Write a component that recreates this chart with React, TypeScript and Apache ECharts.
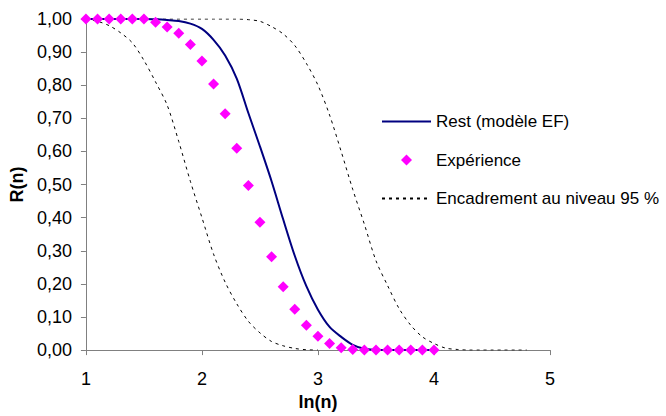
import React, { useEffect, useRef } from "react";
import * as echarts from "echarts";

const lnN = [1.0, 1.1, 1.2, 1.3, 1.4, 1.5, 1.6, 1.7, 1.8, 1.9, 2.0, 2.1, 2.2, 2.3, 2.4, 2.5, 2.6, 2.7, 2.8, 2.9, 3.0, 3.1, 3.2, 3.3, 3.4, 3.5, 3.6, 3.7, 3.8, 3.9, 4.0, 4.1, 4.2, 4.3, 4.4, 4.5, 4.6, 4.7, 4.8];

const experience = [1.0, 1.0, 1.0, 1.0, 1.0, 1.0, 0.99, 0.976, 0.957, 0.923, 0.873, 0.804, 0.714, 0.61, 0.497, 0.386, 0.282, 0.191, 0.123, 0.075, 0.042, 0.02, 0.007, 0.002, 0, 0, 0, 0, 0, 0, 0];

const rest = [1.0, 1.0, 1.0, 1.0, 1.0, 1.0, 0.999, 0.997, 0.994, 0.986, 0.97, 0.937, 0.89, 0.82, 0.716, 0.615, 0.51, 0.395, 0.285, 0.193, 0.122, 0.07, 0.04, 0.016, 0.004, 0.001, 0, 0, 0, 0, 0];

const lowerBound = [1.0, 0.993, 0.98, 0.958, 0.928, 0.875, 0.81, 0.74, 0.63, 0.51, 0.4, 0.29, 0.205, 0.14, 0.087, 0.052, 0.026, 0.013, 0.005, 0.001, 0];

const upperBound = [1.0, 1.0, 1.0, 1.0, 1.0, 1.0, 1.0, 1.0, 1.0, 1.0, 1.0, 1.0, 1.0, 1.0, 0.998, 0.993, 0.977, 0.955, 0.92, 0.866, 0.8, 0.71, 0.6, 0.485, 0.38, 0.27, 0.195, 0.125, 0.075, 0.04, 0.02, 0.006, 0.002, 0, 0, 0, 0, 0, 0];

const seriesNames = ["Rest (modèle EF)", "Expérience", "Encadrement au niveau 95 %"];
const xTicks = [1, 2, 3, 4, 5];

const pairs = (vals: number[]) => vals.map((v, i) => [lnN[i], v]);

const FONT = "Liberation Sans, Arial, sans-serif";
const DIAMOND = "path://M5,0L10,5L5,10L0,5Z";
const hiddenMarker = { color: "transparent", borderColor: "transparent", borderWidth: 0, opacity: 0 };

export default function App() {
  const ref = useRef<HTMLDivElement>(null);
  useEffect(() => {
    if (!ref.current) return;
    const chart = echarts.init(ref.current, null, { renderer: "svg" });
    const dotted = { color: "#000000", width: 1, type: [3, 4] as any };
    chart.setOption({
      animation: false,
      backgroundColor: "#ffffff",
      textStyle: { fontFamily: FONT },
      grid: { left: 82, top: 19, right: 116, bottom: 62, containLabel: false },
      legend: {
        orient: "vertical",
        left: 376,
        top: 108,
        itemWidth: 49,
        itemHeight: 11,
        itemGap: 21.5,
        symbolKeepAspect: true,
        data: [
          { name: seriesNames[0], itemStyle: hiddenMarker },
          { name: seriesNames[1], icon: DIAMOND },
          { name: seriesNames[2], itemStyle: hiddenMarker },
        ],
        textStyle: { fontSize: 17, color: "#000000", fontFamily: FONT },
      },
      xAxis: {
        type: "value",
        min: xTicks[0],
        max: xTicks[xTicks.length - 1],
        interval: 1,
        name: "ln(n)",
        nameLocation: "middle",
        nameGap: 40,
        nameTextStyle: { fontSize: 18, fontWeight: "bold", color: "#000000", fontFamily: FONT },
        axisLine: { lineStyle: { color: "#808080", width: 1 } },
        axisTick: { show: true, inside: false, length: 5, lineStyle: { color: "#808080" } },
        axisLabel: { fontSize: 18, color: "#000000", margin: 20, fontFamily: FONT },
        splitLine: { show: false },
      },
      yAxis: {
        type: "value",
        min: 0,
        max: 1,
        interval: 0.1,
        name: "R(n)",
        nameLocation: "middle",
        nameGap: 53,
        nameTextStyle: { fontSize: 18, fontWeight: "bold", color: "#000000", fontFamily: FONT },
        axisLine: { show: true, lineStyle: { color: "#808080", width: 1 } },
        axisTick: { show: true, inside: false, length: 5, lineStyle: { color: "#808080" } },
        axisLabel: {
          fontSize: 18,
          color: "#000000",
          margin: 14,
          fontFamily: FONT,
          formatter: (v: number) => v.toFixed(2).replace(".", ","),
        },
        splitLine: { show: false },
      },
      series: [
        {
          name: seriesNames[2],
          type: "line",
          data: pairs(lowerBound),
          symbol: "none",
          showSymbol: false,
          smooth: 0.3,
          lineStyle: dotted,
          itemStyle: { color: "#000000" },
          z: 2,
        },
        {
          name: seriesNames[2],
          type: "line",
          data: pairs(upperBound),
          symbol: "none",
          showSymbol: false,
          smooth: 0.3,
          lineStyle: dotted,
          itemStyle: { color: "#000000" },
          z: 2,
        },
        {
          name: seriesNames[0],
          type: "line",
          data: pairs(rest),
          symbol: "none",
          showSymbol: false,
          smooth: 0.3,
          lineStyle: { color: "#000080", width: 2 },
          itemStyle: { color: "#000080" },
          z: 3,
        },
        {
          name: seriesNames[1],
          type: "scatter",
          data: pairs(experience),
          symbol: "diamond",
          symbolSize: 11,
          itemStyle: { color: "#FF00FF", opacity: 1 },
          z: 4,
        },
      ],
    });
    return () => chart.dispose();
  }, []);
  return <div ref={ref} style={{ width: 666, height: 416, position: "absolute", left: 0, top: 0 }} />;
}
